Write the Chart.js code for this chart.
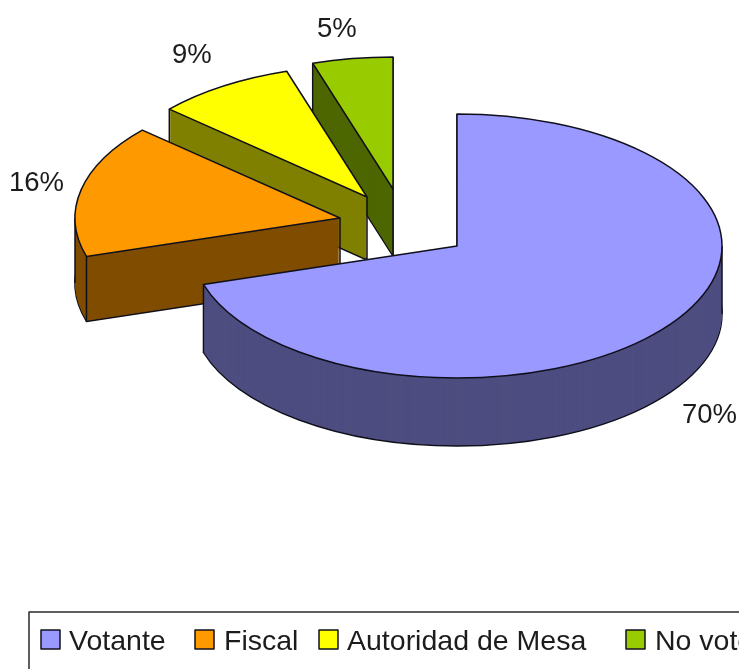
<!DOCTYPE html>
<html>
<head>
<meta charset="utf-8">
<style>html,body{margin:0;padding:0;background:#fff;overflow:hidden}canvas{display:block}</style>
<script src="https://cdn.jsdelivr.net/npm/chart.js@4"></script>
</head>
<body>
<canvas id="c" width="739" height="669"></canvas>
<script>
// data: slice shares; printed labels are these rounded
const categories = ['Votante', 'Fiscal', 'Autoridad de Mesa', 'No voto'];
const values = [70.3, 16.3, 8.5, 4.9];

// styles
const topColors = ['#9999FF', '#FF9900', '#FFFF00', '#99CC00'];
const wallColors = ['#4D4D80', '#804D00', '#808000', '#4D6600'];
const lineColor = '#10101c';
const textColor = '#1c1c1c';
const fontFamily = '"Liberation Sans", Arial, sans-serif';

// layout of the exploded 3-D view
const centerY = 246, squash = 0.498;
const sliceShiftX = [0, -117, -90, -64];
const sliceShiftY = [0, -28, -49, -57];
const wallDepth = [68, 65, 63, 67];
const paintOrder = [3, 2, 1, 0];
const labelX = [682, 9, 172, 317];
const labelY = [423, 191, 63, 37];
const legendBoxX = [41, 195, 319, 626];
const legendTextX = [69, 224, 347, 655];

function place(ctx, arc, i, dy) {
  ctx.translate(sliceShiftX[i], centerY + sliceShiftY[i] + dy);
  ctx.scale(1, squash);
  ctx.translate(0, -arc.y);
}
function sector(ctx, arc, i, dy) {
  ctx.save();
  place(ctx, arc, i, dy);
  ctx.beginPath();
  ctx.moveTo(arc.x, arc.y);
  ctx.arc(arc.x, arc.y, arc.outerRadius, arc.startAngle, arc.endAngle);
  ctx.closePath();
  ctx.restore();
}
function rimPoints(arc) {
  const angles = [arc.startAngle, arc.endAngle];
  for (const a of [Math.PI, 2 * Math.PI, 3 * Math.PI, 0]) {
    if (a > arc.startAngle && a < arc.endAngle) angles.push(a);
  }
  const pts = angles.map(a => [Math.cos(a) * arc.outerRadius, Math.sin(a) * arc.outerRadius * squash]);
  pts.push([0, 0]);
  return pts;
}

const pie3d = {
  id: 'pie3d',
  beforeDatasetDraw(chart) {
    const ctx = chart.ctx;
    const arcs = chart.getDatasetMeta(0).data;
    for (const i of paintOrder) {
      const arc = arcs[i], depth = wallDepth[i];
      ctx.lineWidth = 1.5;
      ctx.strokeStyle = lineColor;
      ctx.lineJoin = 'round';
      ctx.fillStyle = wallColors[i];
      sector(ctx, arc, i, depth);
      ctx.fill();
      ctx.stroke();
      for (let k = depth - 1; k >= 0; k--) {
        sector(ctx, arc, i, k);
        ctx.fillStyle = wallColors[i];
        ctx.fill();
      }
      ctx.beginPath();
      for (const [px, py] of rimPoints(arc)) {
        const x = arc.x + sliceShiftX[i] + px;
        const y = centerY + sliceShiftY[i] + py;
        ctx.moveTo(x, y);
        ctx.lineTo(x, y + depth);
      }
      ctx.stroke();
      ctx.save();
      place(ctx, arc, i, 0);
      arc.draw(ctx);
      ctx.restore();
      sector(ctx, arc, i, 0);
      ctx.stroke();
    }
    return false;
  },
  afterDraw(chart) {
    const ctx = chart.ctx;
    ctx.save();
    ctx.textBaseline = 'alphabetic';
    ctx.textAlign = 'left';
    ctx.fillStyle = textColor;
    ctx.font = '27.5px ' + fontFamily;
    values.forEach((v, i) => ctx.fillText(Math.round(v) + '%', labelX[i], labelY[i]));

    ctx.strokeStyle = '#2a2a2a';
    ctx.lineWidth = 1.5;
    ctx.beginPath();
    ctx.moveTo(29, 669);
    ctx.lineTo(29, 612);
    ctx.lineTo(739, 612);
    ctx.stroke();

    ctx.font = '28.5px ' + fontFamily;
    categories.forEach((name, i) => {
      ctx.fillStyle = topColors[i];
      ctx.fillRect(legendBoxX[i], 630, 19, 19);
      ctx.strokeStyle = lineColor;
      ctx.strokeRect(legendBoxX[i], 630, 19, 19);
      ctx.fillStyle = textColor;
      ctx.fillText(name, legendTextX[i], 650);
    });
    ctx.restore();
  }
};

new Chart(document.getElementById('c'), {
  type: 'pie',
  data: {
    labels: categories,
    datasets: [{ data: values, backgroundColor: topColors, borderWidth: 0 }]
  },
  options: {
    responsive: false,
    animation: false,
    events: [],
    layout: { padding: { left: 192, right: 17, top: 0, bottom: 139 } },
    plugins: { legend: { display: false }, tooltip: { enabled: false } }
  },
  plugins: [pie3d]
});
</script>
</body>
</html>
